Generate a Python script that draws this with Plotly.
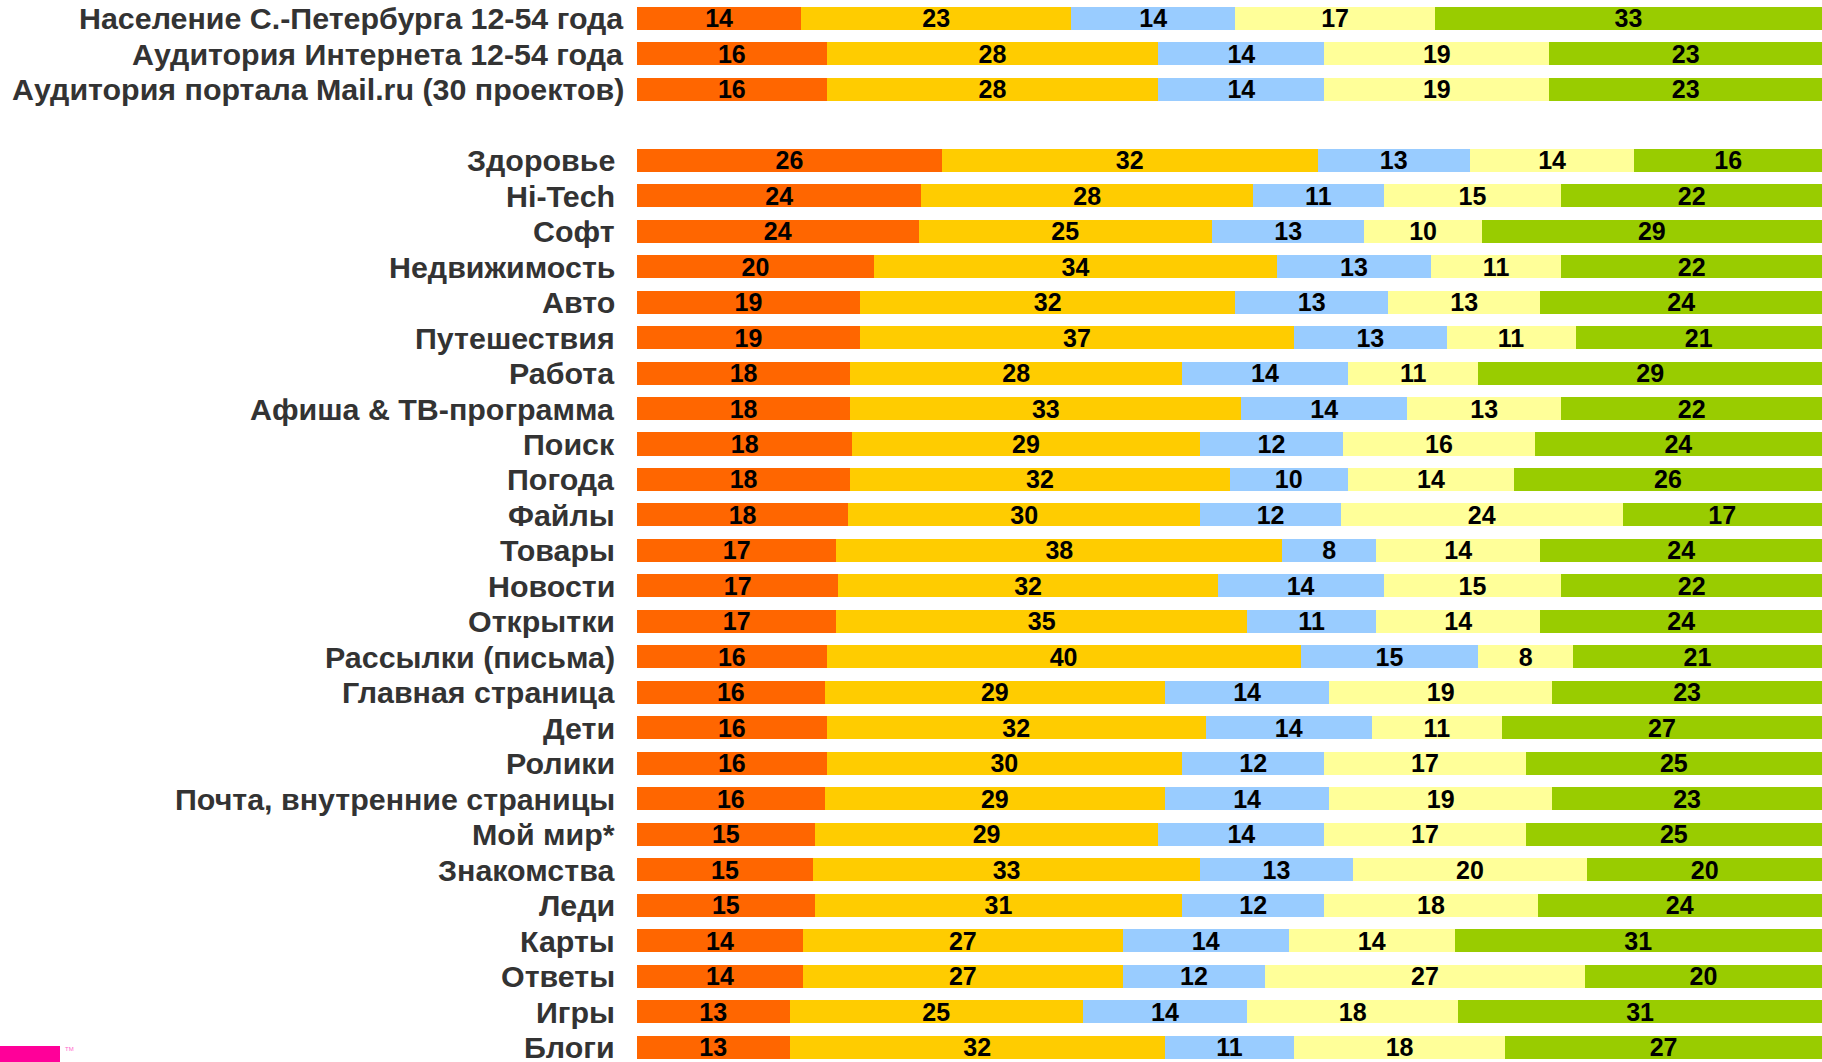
import plotly.graph_objects as go

categories = [
    "Население С.-Петербурга 12-54 года",
    "Аудитория Интернета 12-54 года",
    "Аудитория портала Mail.ru (30 проектов)",
    "Здоровье", "Hi-Tech", "Софт", "Недвижимость", "Авто", "Путешествия",
    "Работа", "Афиша & ТВ-программа", "Поиск", "Погода", "Файлы", "Товары",
    "Новости", "Открытки", "Рассылки (письма)", "Главная страница", "Дети",
    "Ролики", "Почта, внутренние страницы", "Мой мир*", "Знакомства", "Леди",
    "Карты", "Ответы", "Игры", "Блоги",
]
top_group_size = 3

s1 = [14, 16, 16, 26, 24, 24, 20, 19, 19, 18, 18, 18, 18, 18, 17, 17, 17, 16, 16, 16, 16, 16, 15, 15, 15, 14, 14, 13, 13]
s2 = [23, 28, 28, 32, 28, 25, 34, 32, 37, 28, 33, 29, 32, 30, 38, 32, 35, 40, 29, 32, 30, 29, 29, 33, 31, 27, 27, 25, 32]
s3 = [14, 14, 14, 13, 11, 13, 13, 13, 13, 14, 14, 12, 10, 12, 8, 14, 11, 15, 14, 14, 12, 14, 14, 13, 12, 14, 12, 14, 11]
s4 = [17, 19, 19, 14, 15, 10, 11, 13, 11, 11, 13, 16, 14, 24, 14, 15, 14, 8, 19, 11, 17, 19, 17, 20, 18, 14, 27, 18, 18]
s5 = [33, 23, 23, 16, 22, 29, 22, 24, 21, 29, 22, 24, 26, 17, 24, 22, 24, 21, 23, 27, 25, 23, 25, 20, 24, 31, 20, 31, 27]
series = [s1, s2, s3, s4, s5]
colors = ["#FF6600", "#FFCC00", "#99CCFF", "#FFFF99", "#99CC00"]

# row positions: top group, one empty row, then the rest
rows = [i if i < top_group_size else i + 1 for i in range(len(categories))]

NARROW = "Liberation Sans Narrow, Arial Narrow, Liberation Sans, sans-serif"

fig = go.Figure()
for vals, col in zip(series, colors):
    fig.add_trace(go.Bar(
        y=rows, x=vals, orientation="h",
        marker=dict(color=col, line=dict(width=0)),
        text=[str(v) for v in vals], textposition="inside",
        insidetextanchor="middle", textangle=0, constraintext="none",
        textfont=dict(family=NARROW, size=25, color="#000000", weight="bold"),
        hoverinfo="skip", showlegend=False,
    ))

label_font = dict(family=NARROW, size=30.4, color="#333333", weight="bold")
annotations = []
for i, (c, r) in enumerate(zip(categories, rows)):
    annotations.append(dict(
        x=0, xref="x", y=r, yref="y", text=c, showarrow=False,
        xanchor="right", yanchor="middle",
        xshift=-11 if i < top_group_size else -20,
        font=label_font,
    ))

annotations.append(dict(x=63 / 1822, y=1 - 1049 / 1062, xref="paper", yref="paper",
                        text="TM", showarrow=False, xanchor="left", yanchor="middle",
                        font=dict(family="Liberation Sans", size=6, color="#FF66CC")))

fig.update_layout(
    width=1822, height=1062,
    margin=dict(l=0, r=0, t=0, b=0),
    paper_bgcolor="white", plot_bgcolor="white",
    barmode="stack", barnorm="percent", bargap=0.35,
    uniformtext=dict(minsize=25, mode="show"),
    xaxis=dict(domain=[637 / 1822, 1], range=[0, 100], visible=False, fixedrange=True),
    yaxis=dict(range=[29.42, -0.516], visible=False, fixedrange=True),
    annotations=annotations,
    shapes=[dict(type="rect", xref="paper", yref="paper",
                 x0=0, x1=60 / 1822, y0=0, y1=1 - 1046 / 1062,
                 fillcolor="#FF0099", line=dict(width=0))],
)

fig.write_html("out.html", config={"displayModeBar": False},
               post_script="document.body.style.margin='0';document.body.style.overflow='hidden';")
